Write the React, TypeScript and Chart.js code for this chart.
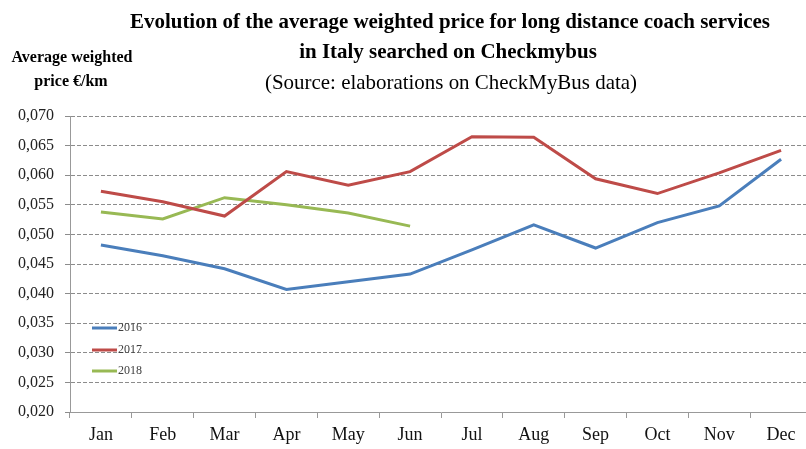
import { useEffect, useRef } from 'react';
import { Chart, registerables } from 'chart.js';

Chart.register(...registerables);

const months = ['Jan', 'Feb', 'Mar', 'Apr', 'May', 'Jun', 'Jul', 'Aug', 'Sep', 'Oct', 'Nov', 'Dec'];
const values2016 = [0.0482, 0.0464, 0.0442, 0.0407, 0.0420, 0.0433, 0.0474, 0.0516, 0.0477, 0.0520, 0.0548, 0.0627];
const values2017 = [0.0573, 0.0555, 0.0531, 0.0606, 0.0583, 0.0606, 0.0665, 0.0664, 0.0594, 0.0569, 0.0604, 0.0642];
const values2018 = [0.0538, 0.0526, 0.0562, 0.0550, 0.0536, 0.0514];
const seriesNames = ['2016', '2017', '2018'];
const seriesColors = ['#4a7ebb', '#be4b48', '#98b954'];
const yMin = 0.02;
const yMax = 0.07;
const yStep = 0.005;
const titleLines = [
  'Evolution of the average weighted price for long distance coach services',
  'in Italy searched on Checkmybus',
];
const subtitleText = '(Source: elaborations on CheckMyBus data)';
const yAxisTitle = ['Average weighted', 'price €/km'];

const SERIF = '"Liberation Serif", "DejaVu Serif", serif';

const textPlugin = {
  id: 'texts',
  afterDraw(chart: any) {
    const ctx = chart.ctx;
    ctx.save();
    ctx.fillStyle = '#000';
    ctx.textAlign = 'center';
    ctx.textBaseline = 'alphabetic';
    const drawScaled = (t: string, x: number, y: number, s: number) => {
      ctx.save();
      ctx.translate(x, y);
      ctx.scale(s, 1);
      ctx.fillText(t, 0, 0);
      ctx.restore();
    };
    ctx.font = `bold 22px ${SERIF}`;
    const w1 = ctx.measureText(titleLines[0]).width;
    const sx = 640 / w1;
    drawScaled(titleLines[0], 450, 28, sx);
    drawScaled(titleLines[1], 448, 58, sx);
    ctx.font = `21px ${SERIF}`;
    const ws = ctx.measureText(subtitleText).width;
    drawScaled(subtitleText, 451, 89, 372 / ws);
    ctx.font = `bold 16px ${SERIF}`;
    const wa = ctx.measureText(yAxisTitle[0]).width;
    const sa = 121 / wa;
    drawScaled(yAxisTitle[0], 72, 62, sa);
    drawScaled(yAxisTitle[1], 71, 86, sa);

    // legend inside plot
    const legendY = [328, 350, 371];
    ctx.textAlign = 'left';
    ctx.textBaseline = 'middle';
    ctx.font = `12px ${SERIF}`;
    chart.data.datasets.forEach((ds: any, i: number) => {
      ctx.strokeStyle = ds.borderColor;
      ctx.lineWidth = 3;
      ctx.beginPath();
      ctx.moveTo(92, legendY[i]);
      ctx.lineTo(117, legendY[i]);
      ctx.stroke();
      ctx.fillStyle = '#404040';
      ctx.fillText(ds.label, 118, legendY[i]);
    });
    ctx.restore();
  },
};

export default function App() {
  const ref = useRef<HTMLCanvasElement | null>(null);
  useEffect(() => {
    document.body.style.margin = '0';
    const canvas = ref.current!;
    const datasets = [values2016, values2017, values2018].map((vals, i) => ({
      label: seriesNames[i],
      data: vals,
      borderColor: seriesColors[i],
      backgroundColor: seriesColors[i],
      borderWidth: 3,
      pointRadius: 0,
      tension: 0,
      fill: false,
    }));
    const chart = new Chart(canvas, {
      type: 'line',
      data: { labels: months, datasets },
      options: {
        responsive: false,
        animation: false,
        layout: { padding: { top: 116, left: 0, right: 0, bottom: 0 } },
        plugins: { legend: { display: false }, title: { display: false }, tooltip: { enabled: false } },
        scales: {
          x: {
            offset: true,
            grid: {
              display: true,
              offset: true,
              drawOnChartArea: false,
              drawTicks: true,
              tickLength: 6,
              color: '#999',
            },
            border: { display: true, color: '#999', width: 1 },
            ticks: {
              color: '#111',
              padding: 6,
              font: { family: SERIF, size: 18 },
              maxRotation: 0,
              autoSkip: false,
            },
            afterFit: (scale: any) => {
              scale.height = 37;
            },
          },
          y: {
            min: yMin,
            max: yMax,
            grid: {
              color: '#8c8c8c',
              lineWidth: 1,
              drawTicks: true,
              tickLength: 5,
              tickBorderDash: [],
            },
            border: { display: true, color: '#999', width: 1, dash: [4, 2] },
            ticks: {
              stepSize: yStep,
              color: '#222',
              padding: 11,
              font: { family: SERIF, size: 16 },
              callback: (v: any) => (Math.round(Number(v) * 1000) / 1000).toFixed(3).replace('.', ','),
            },
            afterFit: (scale: any) => {
              scale.width = 70;
            },
          },
        },
      },
      plugins: [textPlugin],
    });
    return () => chart.destroy();
  }, []);
  return (
    <div style={{ width: 806, height: 449, overflow: 'hidden', background: '#fff' }}>
      <canvas ref={ref} width={812} height={449} style={{ display: 'block' }} />
    </div>
  );
}
